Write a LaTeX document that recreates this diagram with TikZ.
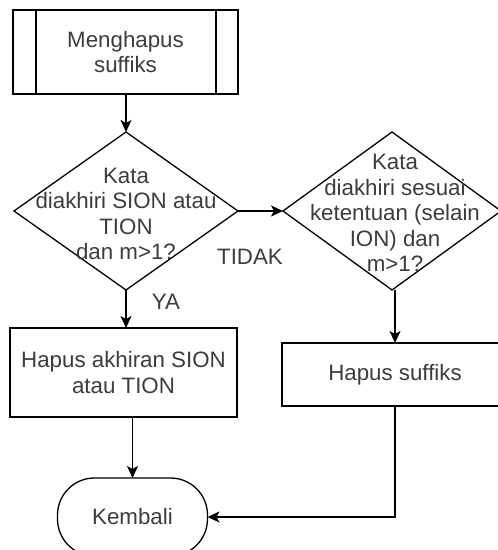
\documentclass[tikz,border=0pt]{standalone}
\usepackage{fontspec}
\setmainfont{Liberation Sans}
\usetikzlibrary{shapes.geometric,arrows.meta}
\definecolor{txt}{RGB}{60,60,60}
\begin{document}
\begin{tikzpicture}[x=1pt,y=1pt,
  every node/.style={inner sep=0pt,outer sep=0pt},
  shapeline/.style={draw=black,line width=1.3pt},
  box/.style={shapeline,rectangle},
  decision/.style={shapeline,diamond},
  lbl/.style={text=txt,font=\fontsize{22.3}{25.5}\selectfont,align=center},
  flow/.style={line width=1.3pt,-{Stealth[length=12pt,width=11pt,inset=3pt]}}]
\useasboundingbox (0,0) rectangle (498,550);
\clip (0,0) rectangle (498,550);

% predefined process
\node[box,minimum width=225pt,minimum height=84pt] (start) at (125.5,498) {};
\draw[line width=1.3pt] ([xshift=23pt]start.north west) -- ([xshift=23pt]start.south west);
\draw[line width=1.3pt] ([xshift=-22pt]start.north east) -- ([xshift=-22pt]start.south east);
\node[lbl] (startT) at (start.center) {Menghapus\\suffiks};

% first decision
\node[decision,minimum width=224pt,minimum height=158pt] (d1) at (126,339) {};
\node[lbl] (d1T) at (126,336) {Kata\\diakhiri SION atau\\TION\\dan m>1?};

% second decision
\node[decision,minimum width=218pt,minimum height=158pt] (d2) at (392,339) {};
\node[lbl] (d2T) at (395,337) {Kata\\diakhiri sesuai\\ketentuan (selain\\ION) dan\\m>1?};

% actions
\node[box,minimum width=227pt,minimum height=89pt] (b2) at (123.5,177.5) {};
\node[lbl] (b2T) at (b2.center) {Hapus akhiran SION\\atau TION};
\node[box,minimum width=226pt,minimum height=63pt] (b3) at (395,175.5) {};
\node[lbl] (b3T) at (b3.center) {Hapus suffiks};

% terminator
\node[shapeline,rectangle,rounded corners=37pt,minimum width=150pt,minimum height=78pt] (end) at (132.5,33) {};
\node[lbl] (endT) at (end.center) {Kembali};

% connectors
\draw[flow] (start.south -| d1.north) -- (d1.north);
\draw[flow] (d1.south) -- (d1.south |- b2.north);
\draw[flow] (d1.east) -- (d2.west);
\draw[flow] (d2.south -| b3.north) -- (b3.north);
\draw[flow] (end.north |- b2.south) -- (end.north);
\coordinate (bend) at (b3.south |- end.east);
\draw[flow] (b3.south) -- (bend) -- (end.east);

% branch labels
\node[lbl] (ya) at (166,248) {YA};
\node[lbl] (tidak) at (250,293) {TIDAK};
\end{tikzpicture}
\end{document}
